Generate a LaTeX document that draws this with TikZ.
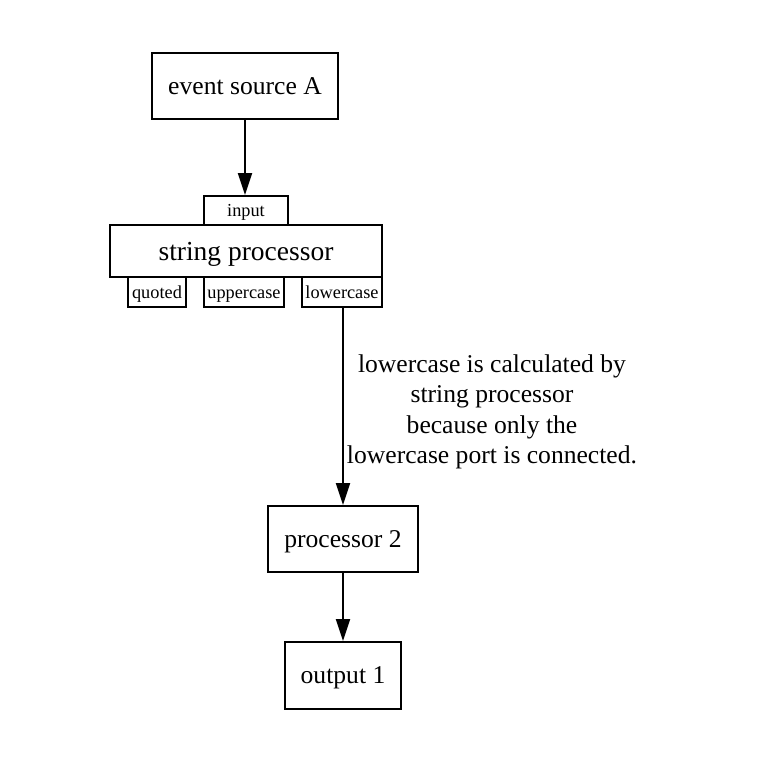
\documentclass[tikz,border=0pt]{standalone}
\usepackage{fontspec}
\setmainfont{Liberation Serif}
\usetikzlibrary{arrows.meta}
\tikzset{
  box/.style={draw=black, line width=2pt, inner sep=0pt, rectangle, font=\fontsize{25.6}{30}\selectfont, text height=18pt, text depth=2pt},
  portbox/.style={draw=black, line width=2pt, inner sep=0pt, rectangle, font=\fontsize{18.3}{20}\selectfont, text height=13pt, text depth=1pt},
  conn/.style={line width=2pt, -{Triangle[length=22pt,width=14pt]}},
}
\begin{document}
\begin{tikzpicture}[x=1pt,y=-1pt]
\useasboundingbox (0,0) rectangle (763,756);
\node[box, minimum width=186pt, minimum height=66pt] (src) at (245,86) {event source A};
\node[portbox, minimum width=84pt, minimum height=29pt] (inp) at (246,210.5) {input};
\node[box, font=\fontsize{27.5}{30}\selectfont, text height=20pt, text depth=2pt, minimum width=272pt, minimum height=52pt] (sp) at (246,251) {string processor};
\node[portbox, minimum width=58pt, minimum height=30pt] (quo) at (157,292) {quoted};
\node[portbox, minimum width=80pt, minimum height=30pt] (upp) at (244,292) {uppercase};
\node[portbox, minimum width=80pt, minimum height=30pt] (low) at (342,292) {lowercase};
\node[box, minimum width=150pt, minimum height=66pt] (p2) at (343,539) {processor 2};
\node[box, minimum width=116pt, minimum height=67pt] (out) at (343,675.5) {output 1};
\node[font=\fontsize{25.6}{30.5}\selectfont, align=center, inner sep=0pt] (lbl) at (492,412) {lowercase is calculated by\\string processor\\because only the\\lowercase port is connected.};
\draw[conn] (src.south) -- (src.south |- inp.north);
\draw[conn] (low.south -| p2.north) -- (p2.north);
\draw[conn] (p2.south) -- (out.north);
\end{tikzpicture}
\end{document}
